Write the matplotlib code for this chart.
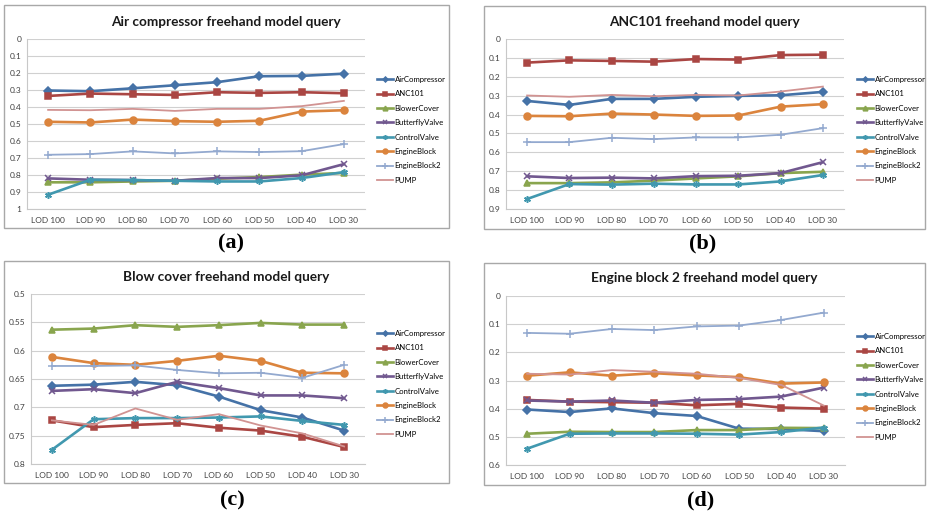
import matplotlib.pyplot as plt
from matplotlib.patches import Rectangle

# series names and level-of-detail categories shared by all four charts
series_names = ["AirCompressor", "ANC101", "BlowerCover", "ButterflyValve",
                "ControlValve", "EngineBlock", "EngineBlock2", "PUMP"]
lod_labels = ["LOD 100", "LOD 90", "LOD 80", "LOD 70", "LOD 60", "LOD 50", "LOD 40", "LOD 30"]

# (a) air compressor query, one row per series
air_compressor_query = [
    [0.303, 0.307, 0.290, 0.272, 0.254, 0.219, 0.217, 0.204],
    [0.335, 0.321, 0.325, 0.329, 0.313, 0.317, 0.313, 0.319],
    [0.843, 0.843, 0.838, 0.834, 0.822, 0.812, 0.798, 0.788],
    [0.820, 0.828, 0.830, 0.834, 0.818, 0.818, 0.802, 0.736],
    [0.916, 0.828, 0.830, 0.834, 0.838, 0.838, 0.818, 0.783],
    [0.487, 0.491, 0.474, 0.483, 0.487, 0.481, 0.427, 0.419],
    [0.681, 0.677, 0.661, 0.673, 0.661, 0.665, 0.660, 0.618],
    [0.417, 0.419, 0.411, 0.423, 0.411, 0.411, 0.395, 0.364],
]

# (b) ANC101 query
anc101_query = [
    [0.328, 0.349, 0.317, 0.317, 0.306, 0.301, 0.298, 0.280],
    [0.125, 0.113, 0.116, 0.120, 0.106, 0.109, 0.085, 0.083],
    [0.763, 0.763, 0.759, 0.750, 0.738, 0.727, 0.710, 0.703],
    [0.727, 0.736, 0.734, 0.738, 0.726, 0.724, 0.710, 0.652],
    [0.847, 0.768, 0.771, 0.766, 0.770, 0.770, 0.754, 0.720],
    [0.407, 0.409, 0.395, 0.400, 0.407, 0.405, 0.358, 0.345],
    [0.546, 0.546, 0.523, 0.530, 0.521, 0.521, 0.507, 0.472],
    [0.299, 0.306, 0.296, 0.303, 0.296, 0.299, 0.278, 0.252],
]

# (c) blower cover query
blow_cover_query = [
    [0.662, 0.660, 0.655, 0.661, 0.681, 0.705, 0.718, 0.741],
    [0.723, 0.735, 0.731, 0.728, 0.736, 0.741, 0.752, 0.770],
    [0.563, 0.561, 0.555, 0.558, 0.555, 0.551, 0.554, 0.554],
    [0.671, 0.668, 0.675, 0.655, 0.666, 0.679, 0.679, 0.684],
    [0.775, 0.721, 0.719, 0.719, 0.718, 0.716, 0.724, 0.731],
    [0.611, 0.622, 0.625, 0.618, 0.609, 0.618, 0.639, 0.640],
    [0.627, 0.627, 0.626, 0.634, 0.640, 0.639, 0.648, 0.625],
    [0.723, 0.731, 0.702, 0.722, 0.712, 0.732, 0.746, 0.769],
]

# (d) engine block 2 query
engine_block2_query = [
    [0.403, 0.412, 0.399, 0.416, 0.426, 0.471, 0.472, 0.480],
    [0.369, 0.375, 0.377, 0.379, 0.388, 0.383, 0.396, 0.400],
    [0.489, 0.482, 0.483, 0.483, 0.476, 0.476, 0.468, 0.469],
    [0.371, 0.375, 0.371, 0.379, 0.369, 0.366, 0.357, 0.325],
    [0.542, 0.489, 0.488, 0.488, 0.489, 0.492, 0.483, 0.467],
    [0.283, 0.271, 0.283, 0.274, 0.282, 0.288, 0.311, 0.307],
    [0.131, 0.134, 0.117, 0.121, 0.108, 0.105, 0.085, 0.059],
    [0.276, 0.279, 0.263, 0.269, 0.276, 0.291, 0.316, 0.389],
]

# y axis ticks for each chart
ticks_a = [0, 0.1, 0.2, 0.3, 0.4, 0.5, 0.6, 0.7, 0.8, 0.9, 1]
ticks_b = [0, 0.1, 0.2, 0.3, 0.4, 0.5, 0.6, 0.7, 0.8, 0.9]
ticks_c = [0.5, 0.55, 0.6, 0.65, 0.7, 0.75, 0.8]
ticks_d = [0, 0.1, 0.2, 0.3, 0.4, 0.5, 0.6]

colors = ["#4572A7", "#AA4643", "#89A54E", "#71588F",
          "#4198AF", "#DB843D", "#93A9CF", "#D19392"]
markers = ["D", "s", "^", "x", (6, 2, 0), "o", "+", None]
marker_sizes = [3.6, 4.6, 4.8, 4.6, 4.8, 5.0, 5.5, 0]
line_widths = [1.9, 1.9, 1.9, 1.9, 1.9, 1.9, 1.3, 1.3]

W, H = 927, 517
plt.rcParams['font.family'] = ['Lato', 'DejaVu Sans']

fig = plt.figure(figsize=(W / 100, H / 100), dpi=100)
fig.patch.set_facecolor("white")


def px_rect(x0, y0, x1, y1):
    # convert pixel box (top-left origin) to figure fraction rect
    return [x0 / W, 1 - y1 / H, (x1 - x0) / W, (y1 - y0) / H]


def draw_chart(data, ticks, title, box, plot, title_pos, legend_pos, caption, caption_pos):
    # chart frame behind everything
    bx = px_rect(*box)
    frame = Rectangle((bx[0], bx[1]), bx[2], bx[3], transform=fig.transFigure,
                      facecolor="none", edgecolor="#a8a8a8", lw=1.0, zorder=-5)
    fig.add_artist(frame)
    ax = fig.add_axes(px_rect(*plot))
    ax.patch.set_alpha(0)
    x = list(range(len(lod_labels)))
    for i, name in enumerate(series_names):
        ax.plot(x, data[i], color=colors[i], lw=line_widths[i], marker=markers[i],
                ms=marker_sizes[i], mew=1.1, label=name)
    ax.set_xlim(-0.5, len(lod_labels) - 0.5)
    ax.set_ylim(ticks[-1], ticks[0])
    ax.set_yticks(ticks)
    ax.set_yticklabels([("%g" % t) for t in ticks])
    ax.set_xticks(x)
    ax.set_xticklabels(lod_labels)
    ax.tick_params(axis="both", length=0, labelsize=6, colors="#404040")
    ax.tick_params(axis="y", pad=4)
    ax.tick_params(axis="x", pad=6)
    ax.grid(axis="y", color="#d0d0d0", lw=0.8)
    ax.set_axisbelow(True)
    for s in ["top", "right"]:
        ax.spines[s].set_visible(False)
    for s in ["left", "bottom"]:
        ax.spines[s].set_color("#c8c8c8")
        ax.spines[s].set_linewidth(0.8)
    fig.text(title_pos[0] / W, 1 - title_pos[1] / H, title, ha="center", va="center",
             fontsize=9.8, fontweight="bold", color="#1a1a1a")
    ax.legend(loc="upper left", bbox_to_anchor=(legend_pos[0] / W, 1 - legend_pos[1] / H),
              bbox_transform=fig.transFigure, frameon=False, fontsize=5.6,
              handlelength=2.0, handletextpad=0.25, labelspacing=0.95,
              borderpad=0, borderaxespad=0, markerscale=0.7)
    fig.text(caption_pos[0] / W, 1 - caption_pos[1] / H, caption, ha="center", va="center",
             fontsize=16, fontweight="bold", family="Liberation Serif")


draw_chart(air_compressor_query, ticks_a, "Air compressor freehand model query",
           (4, 5, 449, 228), (27, 39, 365, 209), (226, 22), (377, 76), "(a)", (231, 243))
draw_chart(anc101_query, ticks_b, "ANC101 freehand model query",
           (484, 6, 925, 229), (506, 39, 844, 209), (704, 22), (857, 76), "(b)", (703, 243))
draw_chart(blow_cover_query, ticks_c, "Blow cover freehand model query",
           (4, 261, 449, 483), (31, 294, 365, 464), (226, 277), (377, 330), "(c)", (232, 500))
draw_chart(engine_block2_query, ticks_d, "Engine block 2 freehand model query",
           (484, 263, 925, 485), (506, 296, 845, 465), (704, 278), (857, 333), "(d)", (701, 500))

plt.savefig("out.png", dpi=100)
